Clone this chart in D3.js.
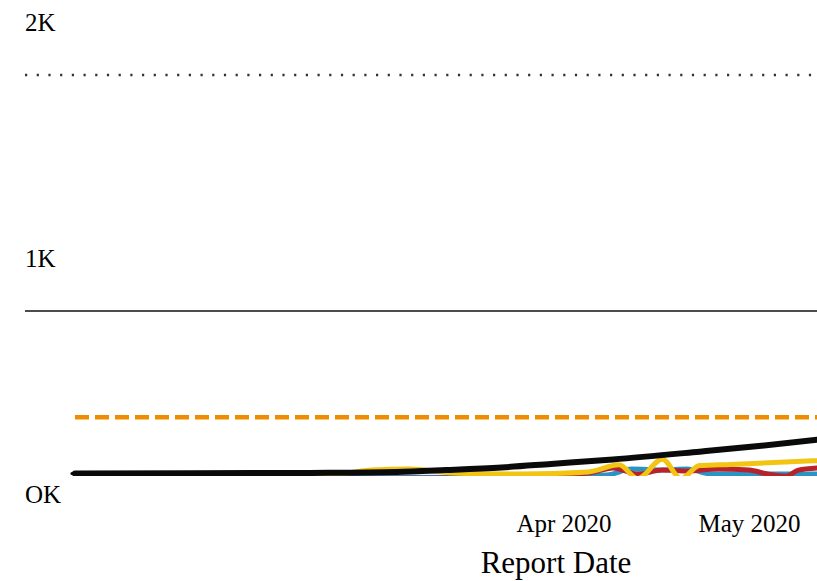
<!DOCTYPE html>
<html>
<head>
<meta charset="utf-8">
<script src="https://cdn.jsdelivr.net/npm/d3@7/dist/d3.min.js"></script>
<style>
  html, body { margin: 0; padding: 0; background: #fff; }
  svg { display: block; }
  text { font-family: "Liberation Serif", "Times New Roman", serif; fill: #000; }
</style>
</head>
<body>
<svg id="chart" width="817" height="581"></svg>
<script>
// ---------- data ----------
const yTickValues = [0, 1000, 2000];
const yTickLabels = ["OK", "1K", "2K"];
const xTickDates = ["2020-04-01", "2020-05-01"];
const xTickLabels = ["Apr 2020", "May 2020"];
const xTitle = "Report Date";

const domainDates = ["2020-01-13", "2020-05-12"];
const referenceLevel = 550;   // orange dashed line

const blackDates  = ["2020-01-13","2020-02-01","2020-02-20","2020-03-05","2020-03-13","2020-03-22","2020-03-30","2020-04-09","2020-04-23","2020-05-03","2020-05-12"];
const blackValues = [311, 312, 314, 318, 326, 337, 352, 371, 404, 429, 454];

const yellowDates  = ["2020-01-13","2020-02-20","2020-03-01","2020-03-07","2020-03-15","2020-03-25","2020-04-05","2020-04-10","2020-04-13","2020-04-17","2020-04-20","2020-04-23","2020-04-28","2020-05-05","2020-05-12"];
const yellowValues = [290, 292, 326, 330, 313, 309, 318, 348, 290, 372, 290, 345, 350, 358, 366];

const redDates  = ["2020-01-13","2020-03-20","2020-04-05","2020-04-09","2020-04-13","2020-04-17","2020-04-21","2020-04-26","2020-05-01","2020-05-04","2020-05-07","2020-05-09","2020-05-12"];
const redValues = [290, 292, 313, 335, 309, 326, 322, 330, 326, 309, 300, 326, 335];

const blueDates  = ["2020-01-13","2020-03-20","2020-04-08","2020-04-12","2020-04-17","2020-04-21","2020-04-25","2020-05-12"];
const blueValues = [292, 296, 305, 330, 326, 330, 309, 309];

const startDotDate = "2020-01-12T12:00";
const startDotValue = 311;

// ---------- layout ----------
const svg = d3.select("#chart");
const W = 817, H = 581;
const parse = d3.isoParse;

const x = d3.scaleTime()
  .domain(domainDates.map(parse))
  .range([75, 817]);
const y = d3.scaleLinear()
  .domain([0, 2000])
  .range([547, 75]);

// gridlines
const gridStyles = { 1000: { dash: null, w: 1.5, c: "#111" }, 2000: { dash: "2.2,9.5", w: 2.4, c: "#333" } };
svg.append("g").selectAll("line")
  .data(yTickValues.filter(v => gridStyles[v]))
  .join("line")
  .attr("x1", 25).attr("x2", W)
  .attr("y1", d => y(d)).attr("y2", d => y(d))
  .attr("stroke", d => gridStyles[d].c)
  .attr("stroke-width", d => gridStyles[d].w)
  .attr("stroke-dasharray", d => gridStyles[d].dash);

// y labels (above grid lines)
const yAxis = d3.axisLeft(y).tickValues(yTickValues)
  .tickFormat((d, i) => yTickLabels[i]).tickSize(0);
const gy = svg.append("g").attr("transform", "translate(25,0)").call(yAxis);
gy.select(".domain").remove();
gy.selectAll("text")
  .attr("text-anchor", "start")
  .attr("x", 0)
  .attr("dy", "-1.78em")
  .style("font-size", "25px")
  .style("font-family", "'Liberation Serif', serif")
  .attr("fill", "#000");

// x axis labels
const xAxis = d3.axisBottom(x).tickValues(xTickDates.map(parse))
  .tickFormat((d, i) => xTickLabels[i]).tickSize(0);
const gx = svg.append("g").attr("transform", "translate(0,508)").call(xAxis);
gx.select(".domain").remove();
gx.selectAll("text")
  .attr("y", 0).attr("dy", "0.97em")
  .style("font-size", "25px")
  .style("font-family", "'Liberation Serif', serif")
  .attr("fill", "#000");

svg.append("text")
  .attr("x", 556).attr("y", 573)
  .attr("text-anchor", "middle")
  .style("font-size", "31px")
  .text(xTitle);

// clip for the plot area
svg.append("defs").append("clipPath").attr("id", "plotclip")
  .append("rect").attr("x", 70).attr("y", 0).attr("width", W - 70).attr("height", 476);

const plot = svg.append("g").attr("clip-path", "url(#plotclip)");

// reference dashed line
plot.append("line")
  .attr("x1", x(parse(domainDates[0]))).attr("x2", x(parse(domainDates[1])))
  .attr("y1", y(referenceLevel)).attr("y2", y(referenceLevel))
  .attr("stroke", "#f08c00")
  .attr("stroke-width", 4.5)
  .attr("stroke-dasharray", "14,6");

const line = d3.line()
  .x(d => x(d[0])).y(d => y(d[1]))
  .curve(d3.curveMonotoneX);

const series = [
  { dates: blueDates,   values: blueValues,   color: "#2a95c4", width: 5 },
  { dates: redDates,    values: redValues,    color: "#b8232b", width: 5 },
  { dates: yellowDates, values: yellowValues, color: "#f2c514", width: 5 },
  { dates: blackDates,  values: blackValues,  color: "#0a0a0a", width: 6 }
];

plot.selectAll("path.series")
  .data(series)
  .join("path")
  .attr("class", "series")
  .attr("fill", "none")
  .attr("stroke", d => d.color)
  .attr("stroke-width", d => d.width)
  .attr("stroke-linejoin", "round")
  .attr("stroke-linecap", "round")
  .attr("d", d => line(d.dates.map((t, i) => [parse(t), d.values[i]])));

plot.append("circle")
  .attr("cx", x(parse(startDotDate)))
  .attr("cy", y(startDotValue))
  .attr("r", 1.5)
  .attr("fill", "#000");
</script>
</body>
</html>
